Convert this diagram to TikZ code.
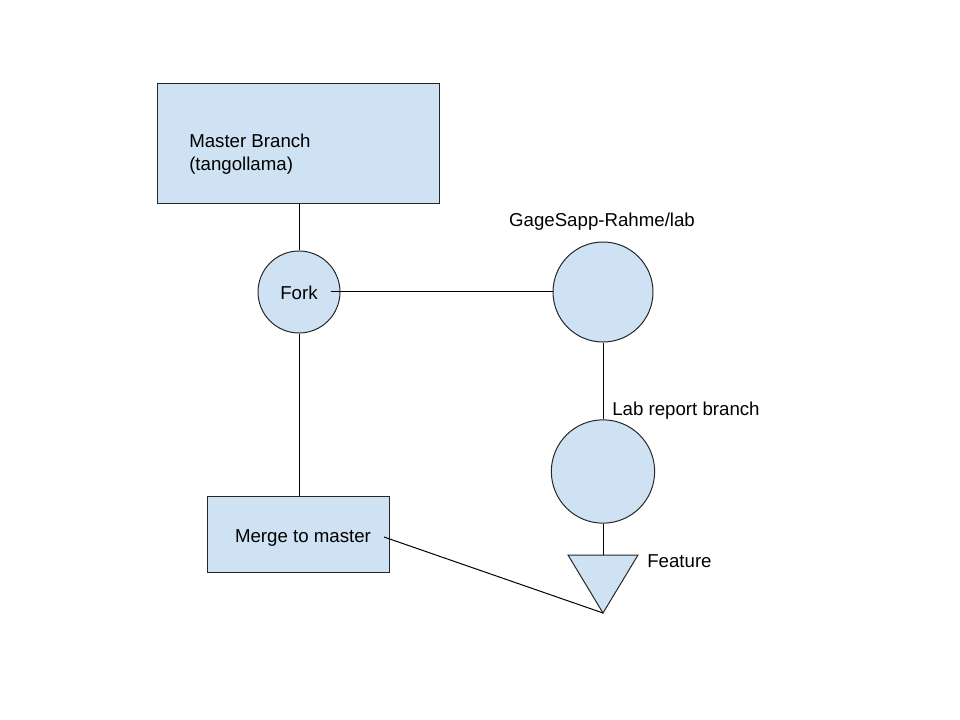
\documentclass[tikz,border=0pt]{standalone}
\usepackage{fontspec}
\setmainfont{Liberation Sans}
\usepackage{tikz}
\usetikzlibrary{positioning}
\definecolor{paleblue}{HTML}{CFE2F3}
\tikzset{
  box/.style={draw=black!85, fill=paleblue, line width=0.75pt, inner sep=0pt},
  dot/.style={box, circle},
  txt/.style={font=\fontsize{14}{17.25}\selectfont, inner sep=0pt},
  link/.style={draw=black, line width=0.75pt}
}

\begin{document}
\begin{tikzpicture}[x=0.75pt, y=-0.75pt]
                    \useasboundingbox (0,0) rectangle (960,720);
                    \node[box, minimum width=211.5pt, minimum height=90pt] (master) at (298,144) {};
                    \node[txt, anchor=west, align=left] (mastertext) at (189,154) {Master Branch\\(tangollama)};
                    \node[dot, txt, draw=black!85, minimum size=61.5pt, text height=12pt, text depth=0pt] (fork) at (299,292) {Fork};
                    \node[dot, minimum size=75pt] (lab) at (603,292) {};
                    \node[dot, minimum size=77.5pt] (report) at (603,471.5) {};
                    \node[box, txt, draw=black!85, minimum width=136.5pt, minimum height=57pt, text height=12pt, text depth=0pt] (merge) at (298,534) {\hspace{7.5pt}Merge to master};
                    \draw[box] (568,555) -- (638,555) -- (603,613) -- cycle;
                    \coordinate (feature) at (603,555);
                    \coordinate (featuretip) at (603,613);
                    \coordinate (mergeend) at (384,537);
                    \node[txt] (labname) at (602,222) {GageSapp-Rahme/lab};
                    \node[txt, anchor=west] (reportname) at (612,411) {Lab report branch};
                    \node[txt, anchor=west] (featurename) at (647,561) {Feature};
                    % branches
                    \draw[link] (fork.north |- master.south) -- (fork.north);
                    \draw[link] ([xshift=-7.5pt]fork.east) -- (lab.west);
                    \draw[link] (fork.south) -- (fork.south |- merge.north);
                    \draw[link] (lab.south) -- (report.north);
                    \draw[link] (report.south) -- (feature);
                    \draw[link] (mergeend) -- (featuretip);
                \end{tikzpicture}
\end{document}
